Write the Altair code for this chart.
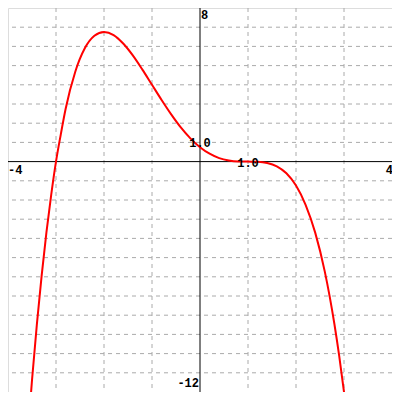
import altair as alt
import pandas as pd

# Curve values
xs = [-3.6, -3.5, -3.4, -3.3, -3.2, -3.1, -3.0, -2.9, -2.8, -2.6, -2.4, -2.2, -2.0, -1.8, -1.6, -1.4,
      -1.2, -1.0, -0.8, -0.6, -0.4, -0.2, 0.0, 0.2, 0.4, 0.6, 0.8, 1.0, 1.2, 1.4, 1.6,
      1.8, 2.0, 2.2, 2.4, 2.6, 2.8, 2.9, 3.0, 3.1]
ys = [-14.60, -11.39, -8.52, -5.96, -3.70, -1.73, 0.0, 1.42, 2.74, 4.67, 5.90, 6.55, 6.75, 6.59, 6.15, 5.53,
      4.79, 4.00, 3.21, 2.46, 1.78, 1.21, 0.75, 0.41, 0.18, 0.058, 0.008, 0.0, -0.008, -0.07, -0.25,
      -0.61, -1.25, -2.25, -3.70, -5.73, -8.46, -10.12, -12.0, -14.12]

x_ticks = [-3, -2, -1, 1, 2, 3]
y_ticks = [-11, -10, -9, -8, -7, -6, -5, -4, -3, -2, -1, 1, 2, 3, 4, 5, 6, 7]

label_texts = ["8", "-12", "-4", "4", "1.0", "1.0"]
label_x = [0, 0, -4, 4, 0, 1]
label_y = [8, -12, 0, 0, 1, 0]
label_align = ["left", "right", "left", "right", "center", "center"]
label_base = ["top", "bottom", "top", "top", "middle", "middle"]
label_dx = [1, -1, 0, 1, 0, 0]
label_dy = [2, -2, 3, 3, 1, 1]

W = 384
H = 384

curve = pd.DataFrame({"x": xs, "y": ys})
xsc = alt.Scale(domain=[-4, 4], nice=False, zero=False)
ysc = alt.Scale(domain=[-12, 8], nice=False, zero=False)

vgrid = alt.Chart(pd.DataFrame({"x": x_ticks})).mark_rule(
    color="#aaaaaa", strokeWidth=1, strokeDash=[4, 4]
).encode(x=alt.X("x:Q", scale=xsc, axis=None))
hgrid = alt.Chart(pd.DataFrame({"y": y_ticks})).mark_rule(
    color="#aaaaaa", strokeWidth=1, strokeDash=[4, 4]
).encode(y=alt.Y("y:Q", scale=ysc, axis=None))

vaxis = alt.Chart(pd.DataFrame({"x": [0]})).mark_rule(color="black", strokeWidth=1).encode(
    x=alt.X("x:Q", scale=xsc, axis=None)
)
haxis = alt.Chart(pd.DataFrame({"y": [0]})).mark_rule(color="black", strokeWidth=1).encode(
    y=alt.Y("y:Q", scale=ysc, axis=None)
)

line = alt.Chart(curve).mark_line(color="#ff0000", strokeWidth=2, clip=True, interpolate="monotone").encode(
    x=alt.X("x:Q", scale=xsc, axis=None),
    y=alt.Y("y:Q", scale=ysc, axis=None),
    order="x:Q",
)

layers = [vgrid, hgrid, vaxis, haxis, line]
for t, lx, ly, al, bl, dx, dy in zip(label_texts, label_x, label_y, label_align, label_base, label_dx, label_dy):
    layers.append(
        alt.Chart(pd.DataFrame({"x": [lx], "y": [ly], "t": [t]})).mark_text(
            align=al, baseline=bl, dx=dx, dy=dy, font="Liberation Mono", fontWeight="bold",
            fontSize=12, color="black", clip=True
        ).encode(x=alt.X("x:Q", scale=xsc, axis=None), y=alt.Y("y:Q", scale=ysc, axis=None), text="t:N")
    )

chart = alt.layer(*layers).properties(
    width=W, height=H, autosize=alt.AutoSizeParams(type="none"), padding=0
).configure_view(stroke="black", strokeWidth=1).configure(background="white")

chart.save("out.html", embed_options={"renderer": "svg", "actions": False})
